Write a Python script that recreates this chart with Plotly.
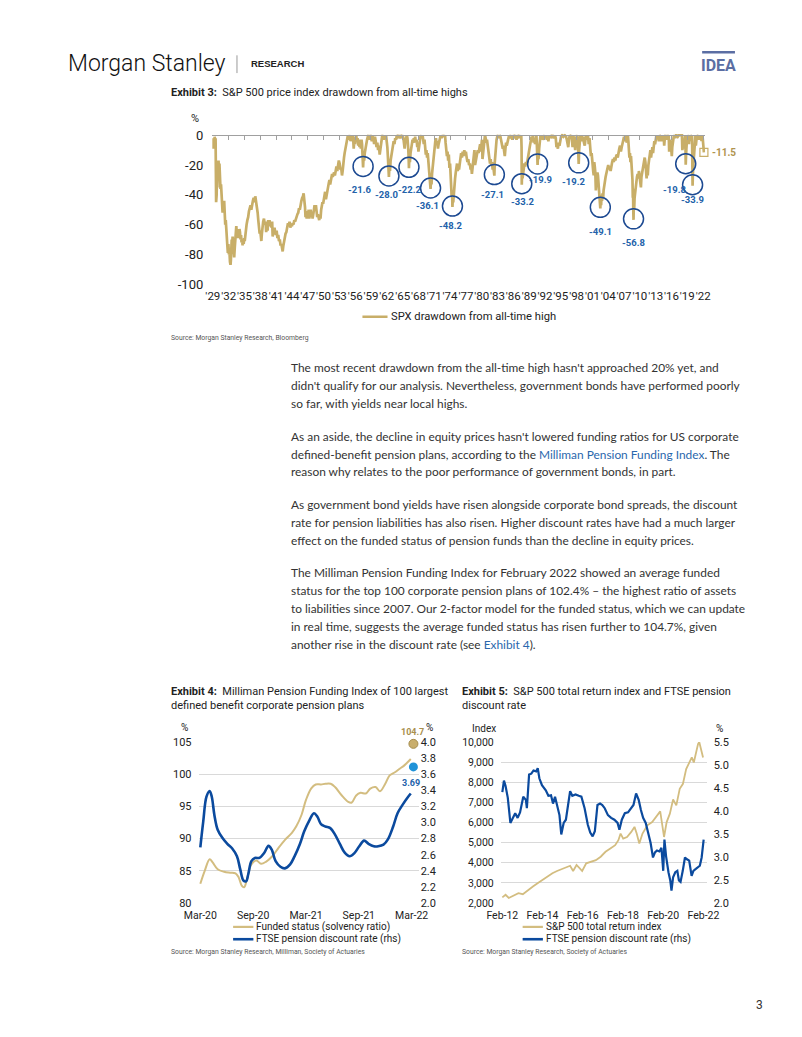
import plotly.graph_objects as go

# ---------------- DATA ----------------
# Exhibit 3: S&P 500 drawdown from all-time high (%), (decimal year, value)
dd_points = [
    (1929.00, -2), (1929.08, -9), (1929.15, -3), (1929.25, -7), (1929.35, -1), (1929.45, -5), (1929.52, -2),
    (1929.58, -25), (1929.62, -45), (1929.67, -33), (1929.72, -40), (1929.78, -28), (1929.85, -35), (1929.92, -20),
    (1930.00, -26), (1930.08, -17), (1930.15, -24), (1930.25, -19), (1930.35, -30), (1930.45, -36), (1930.55, -33),
    (1930.65, -44), (1930.75, -48), (1930.85, -52), (1930.95, -47), (1931.05, -50), (1931.15, -44), (1931.25, -54),
    (1931.35, -60), (1931.45, -57), (1931.55, -66), (1931.65, -63), (1931.75, -74), (1931.85, -79), (1931.95, -73),
    (1932.05, -80), (1932.15, -78), (1932.25, -85), (1932.35, -87), (1932.42, -84), (1932.50, -76), (1932.58, -70),
    (1932.66, -74), (1932.75, -68), (1932.85, -76), (1932.95, -80), (1933.05, -82), (1933.15, -76), (1933.25, -72),
    (1933.35, -64), (1933.45, -61), (1933.55, -66), (1933.65, -63), (1933.75, -69), (1933.85, -66), (1933.95, -68),
    (1934.05, -63), (1934.15, -65), (1934.25, -70), (1934.35, -67), (1934.45, -72), (1934.55, -70), (1934.65, -74),
    (1934.75, -71), (1934.85, -73), (1934.95, -69), (1935.05, -71), (1935.15, -66), (1935.25, -63), (1935.40, -60),
    (1935.55, -57), (1935.70, -55), (1935.85, -51), (1936.00, -49), (1936.15, -47), (1936.30, -50), (1936.45, -46),
    (1936.60, -44), (1936.75, -42), (1936.90, -45), (1937.05, -41), (1937.20, -44), (1937.35, -49), (1937.50, -52),
    (1937.62, -57), (1937.75, -63), (1937.88, -66), (1938.00, -64), (1938.10, -68), (1938.20, -71), (1938.30, -66),
    (1938.40, -61), (1938.55, -58), (1938.70, -56), (1938.85, -60), (1939.00, -58), (1939.12, -65), (1939.25, -60),
    (1939.38, -64), (1939.50, -57), (1939.62, -60), (1939.75, -57), (1939.88, -61), (1940.00, -59), (1940.12, -62),
    (1940.25, -58), (1940.35, -68), (1940.45, -64), (1940.58, -66), (1940.70, -62), (1940.82, -65), (1940.95, -67),
    (1941.10, -64), (1941.25, -69), (1941.40, -67), (1941.55, -71), (1941.70, -70), (1941.85, -74), (1942.00, -73),
    (1942.12, -76), (1942.25, -78), (1942.38, -74), (1942.50, -71), (1942.65, -69), (1942.80, -66), (1942.95, -65),
    (1943.10, -62), (1943.25, -59), (1943.40, -61), (1943.55, -58), (1943.70, -62), (1943.85, -60), (1944.00, -61),
    (1944.15, -59), (1944.30, -60), (1944.45, -57), (1944.60, -58), (1944.75, -56), (1944.90, -55), (1945.05, -53),
    (1945.20, -52), (1945.35, -49), (1945.50, -50), (1945.65, -46), (1945.80, -44), (1945.95, -42), (1946.10, -41),
    (1946.22, -39), (1946.35, -43), (1946.48, -48), (1946.58, -55), (1946.68, -51), (1946.80, -56), (1946.92, -52),
    (1947.05, -54), (1947.18, -50), (1947.30, -56), (1947.42, -53), (1947.55, -50), (1947.68, -54), (1947.80, -52),
    (1947.92, -56), (1948.05, -54), (1948.18, -50), (1948.30, -47), (1948.42, -49), (1948.55, -47), (1948.68, -51),
    (1948.80, -55), (1948.92, -53), (1949.05, -55), (1949.18, -57), (1949.30, -54), (1949.42, -56), (1949.55, -50),
    (1949.68, -48), (1949.80, -45), (1949.92, -46), (1950.05, -43), (1950.18, -41), (1950.30, -38), (1950.45, -43),
    (1950.58, -39), (1950.72, -37), (1950.85, -35), (1951.00, -32), (1951.12, -30), (1951.25, -33), (1951.38, -31),
    (1951.50, -28), (1951.62, -26), (1951.75, -28), (1951.88, -27), (1952.00, -25), (1952.15, -27), (1952.30, -23),
    (1952.45, -21), (1952.60, -24), (1952.75, -19), (1952.90, -17), (1953.05, -19), (1953.20, -23), (1953.35, -22),
    (1953.50, -27), (1953.62, -24), (1953.75, -21), (1953.88, -15), (1954.00, -12), (1954.12, -9), (1954.25, -7),
    (1954.38, -4), (1954.50, -2), (1954.62, 0), (1954.75, -3), (1954.88, -1), (1955.00, 0), (1955.12, -4),
    (1955.25, -1), (1955.38, -3), (1955.50, 0), (1955.62, -2), (1955.72, -9), (1955.82, -4), (1955.95, -6),
    (1956.08, -2), (1956.20, 0), (1956.32, -4), (1956.45, -2), (1956.58, -7), (1956.70, -3), (1956.82, -8),
    (1956.95, -5), (1957.08, -9), (1957.20, -3), (1957.30, -6), (1957.38, -12), (1957.45, -17), (1957.50, -21.6),
    (1957.58, -15), (1957.70, -17), (1957.82, -12), (1957.95, -8), (1958.10, -6), (1958.25, -3), (1958.40, -1),
    (1958.55, 0), (1958.70, -3), (1958.85, 0), (1959.00, -1), (1959.15, -4), (1959.30, 0), (1959.45, -2),
    (1959.60, -6), (1959.75, -1), (1959.90, -4), (1960.05, -8), (1960.20, -5), (1960.35, -10), (1960.50, -7),
    (1960.65, -13), (1960.80, -9), (1960.95, -4), (1961.10, -1), (1961.25, 0), (1961.40, -3), (1961.55, 0),
    (1961.70, -2), (1961.85, 0), (1961.98, -3), (1962.10, -8), (1962.20, -14), (1962.30, -21), (1962.40, -28.0),
    (1962.50, -20), (1962.60, -24), (1962.72, -17), (1962.85, -14), (1963.00, -10), (1963.15, -7), (1963.30, -4),
    (1963.45, -6), (1963.60, -2), (1963.75, -3), (1963.90, 0), (1964.05, -1), (1964.25, 0), (1964.45, -2),
    (1964.65, 0), (1964.85, -1), (1965.00, 0), (1965.15, -2), (1965.28, -6), (1965.38, -9), (1965.50, -4),
    (1965.65, -1), (1965.80, 0), (1965.92, -2), (1966.00, -5), (1966.08, -10), (1966.15, -16), (1966.20, -22.2),
    (1966.28, -14), (1966.38, -18), (1966.50, -12), (1966.62, -9), (1966.75, -6), (1966.88, -3), (1967.00, -5),
    (1967.12, -2), (1967.25, -4), (1967.38, -1), (1967.52, -5), (1967.65, -3), (1967.78, -8), (1967.90, -6),
    (1968.00, -11), (1968.12, -7), (1968.25, -3), (1968.38, -1), (1968.52, 0), (1968.65, -2), (1968.78, 0),
    (1968.90, -4), (1969.02, -6), (1969.15, -3), (1969.28, -9), (1969.40, -13), (1969.52, -10), (1969.64, -15),
    (1969.76, -12), (1969.88, -18), (1970.00, -22), (1970.10, -28), (1970.20, -32), (1970.30, -36.1), (1970.38, -30),
    (1970.48, -33), (1970.58, -26), (1970.70, -21), (1970.82, -17), (1970.95, -11), (1971.08, -7), (1971.20, -4),
    (1971.32, -2), (1971.45, -6), (1971.58, -4), (1971.70, -9), (1971.82, -6), (1971.95, -3), (1972.08, -1),
    (1972.22, 0), (1972.38, -2), (1972.52, 0), (1972.68, -1), (1972.82, 0), (1972.95, -1), (1973.05, 0),
    (1973.15, -5), (1973.28, -10), (1973.40, -14), (1973.52, -11), (1973.64, -17), (1973.76, -13), (1973.88, -22),
    (1974.00, -19), (1974.10, -27), (1974.20, -33), (1974.30, -41), (1974.38, -37), (1974.45, -48.2), (1974.52, -42),
    (1974.60, -45), (1974.70, -38), (1974.82, -33), (1974.95, -29), (1975.08, -25), (1975.20, -22), (1975.32, -19),
    (1975.45, -24), (1975.58, -21), (1975.70, -23), (1975.82, -18), (1975.95, -15), (1976.10, -12), (1976.25, -15),
    (1976.40, -11), (1976.55, -14), (1976.70, -10), (1976.85, -13), (1977.00, -11), (1977.15, -15), (1977.30, -18),
    (1977.45, -16), (1977.60, -20), (1977.75, -19), (1977.90, -23), (1978.02, -21), (1978.14, -26), (1978.26, -22),
    (1978.38, -17), (1978.50, -13), (1978.62, -10), (1978.74, -20), (1978.86, -17), (1978.98, -14), (1979.10, -13),
    (1979.25, -10), (1979.40, -12), (1979.55, -8), (1979.70, -6), (1979.82, -11), (1979.94, -7), (1980.05, -3),
    (1980.15, -16), (1980.25, -12), (1980.38, -7), (1980.50, -3), (1980.62, 0), (1980.75, -2), (1980.88, -5),
    (1981.00, -3), (1981.15, -7), (1981.30, -10), (1981.45, -15), (1981.58, -19), (1981.70, -16), (1981.82, -20),
    (1981.95, -18), (1982.08, -23), (1982.20, -21), (1982.32, -25), (1982.40, -27.1), (1982.48, -18), (1982.58, -11),
    (1982.70, -6), (1982.82, -3), (1982.95, -1), (1983.10, 0), (1983.25, -2), (1983.40, 0), (1983.55, -1),
    (1983.70, -4), (1983.85, -6), (1984.00, -9), (1984.12, -7), (1984.25, -12), (1984.38, -14), (1984.50, -9),
    (1984.62, -5), (1984.75, -7), (1984.90, -4), (1985.05, -1), (1985.20, 0), (1985.40, -2), (1985.60, 0),
    (1985.80, -3), (1986.00, 0), (1986.20, -1), (1986.40, 0), (1986.60, -3), (1986.80, 0), (1987.00, -1),
    (1987.20, 0), (1987.35, -2), (1987.50, 0), (1987.56, -8), (1987.60, -33.2), (1987.66, -25), (1987.74, -29),
    (1987.84, -26), (1987.95, -22), (1988.10, -19), (1988.25, -21), (1988.40, -18), (1988.55, -20), (1988.70, -16),
    (1988.85, -13), (1989.00, -10), (1989.15, -7), (1989.30, -4), (1989.45, -1), (1989.60, -3), (1989.72, 0),
    (1989.85, -5), (1990.00, -2), (1990.12, -6), (1990.25, -1), (1990.38, 0), (1990.48, -8), (1990.60, -19.9),
    (1990.68, -13), (1990.78, -16), (1990.90, -9), (1991.02, -4), (1991.15, 0), (1991.30, -2), (1991.45, 0),
    (1991.60, -3), (1991.75, -1), (1991.90, 0), (1992.05, -2), (1992.20, 0), (1992.35, -3), (1992.50, -1),
    (1992.65, -4), (1992.80, 0), (1992.95, -2), (1993.10, 0), (1993.30, -1), (1993.50, 0), (1993.70, -2),
    (1993.90, 0), (1994.05, -2), (1994.18, -8), (1994.30, -6), (1994.45, -9), (1994.60, -5), (1994.75, -7),
    (1994.90, -4), (1995.05, -1), (1995.25, 0), (1995.50, -1), (1995.75, 0), (1996.00, -1), (1996.15, -3),
    (1996.30, -6), (1996.42, -8), (1996.55, -3), (1996.70, 0), (1996.85, -1), (1997.00, 0), (1997.12, -3),
    (1997.24, -8), (1997.36, 0), (1997.50, -2), (1997.62, -6), (1997.74, -10), (1997.85, -3), (1997.98, -1),
    (1998.10, 0), (1998.22, -2), (1998.30, -8), (1998.40, -19.2), (1998.48, -10), (1998.60, -4), (1998.72, 0),
    (1998.85, -3), (1998.98, 0), (1999.10, -4), (1999.25, -1), (1999.40, -5), (1999.55, -7), (1999.70, -2),
    (1999.85, 0), (2000.00, -3), (2000.15, 0), (2000.30, -6), (2000.45, -2), (2000.60, -9), (2000.72, -14),
    (2000.85, -12), (2000.95, -19), (2001.05, -16), (2001.15, -24), (2001.25, -27), (2001.35, -18), (2001.45, -21),
    (2001.55, -25), (2001.65, -37), (2001.75, -31), (2001.85, -28), (2001.95, -25), (2002.05, -27), (2002.15, -31),
    (2002.25, -35), (2002.35, -41), (2002.43, -46), (2002.50, -49.1), (2002.57, -42), (2002.65, -47), (2002.73, -40),
    (2002.82, -44), (2002.92, -39), (2003.02, -43), (2003.12, -37), (2003.25, -33), (2003.38, -30), (2003.50, -28),
    (2003.62, -26), (2003.75, -24), (2003.88, -22), (2004.00, -20), (2004.15, -23), (2004.30, -21), (2004.45, -24),
    (2004.60, -20), (2004.75, -18), (2004.90, -16), (2005.05, -18), (2005.20, -15), (2005.35, -17), (2005.50, -14),
    (2005.65, -13), (2005.80, -15), (2005.95, -11), (2006.10, -9), (2006.25, -7), (2006.40, -11), (2006.55, -8),
    (2006.70, -5), (2006.85, -3), (2007.00, -1), (2007.12, -4), (2007.25, -1), (2007.38, 0), (2007.50, -5),
    (2007.62, -1), (2007.72, 0), (2007.82, -4), (2007.92, -9), (2008.02, -15), (2008.12, -12), (2008.22, -18),
    (2008.32, -14), (2008.42, -20), (2008.52, -25), (2008.60, -30), (2008.66, -42), (2008.71, -36), (2008.75, -50),
    (2008.80, -56.8), (2008.86, -45), (2008.92, -50), (2009.00, -42), (2009.10, -38), (2009.20, -34), (2009.32, -31),
    (2009.45, -28), (2009.58, -26), (2009.70, -29), (2009.82, -24), (2009.95, -27), (2010.08, -31), (2010.20, -35),
    (2010.30, -28), (2010.42, -25), (2010.55, -22), (2010.68, -19), (2010.80, -16), (2010.92, -15), (2011.05, -18),
    (2011.18, -22), (2011.28, -29), (2011.38, -24), (2011.50, -27), (2011.62, -20), (2011.75, -17), (2011.88, -12),
    (2012.00, -10), (2012.12, -15), (2012.25, -11), (2012.38, -8), (2012.50, -12), (2012.62, -7), (2012.75, -4),
    (2012.88, -6), (2013.00, -1), (2013.15, 0), (2013.30, -2), (2013.45, 0), (2013.60, -4), (2013.75, 0),
    (2013.90, -1), (2014.05, -4), (2014.20, 0), (2014.35, -2), (2014.50, 0), (2014.62, -7), (2014.75, -1),
    (2014.90, 0), (2015.05, -3), (2015.20, 0), (2015.35, -1), (2015.48, 0), (2015.56, -11), (2015.64, -7),
    (2015.76, -3), (2015.88, -6), (2015.98, -12), (2016.06, -14), (2016.15, -8), (2016.28, -3), (2016.42, -1),
    (2016.55, 0), (2016.70, -2), (2016.85, 0), (2017.00, 0), (2017.20, -1), (2017.40, 0), (2017.60, 0),
    (2017.80, 0), (2017.98, 0), (2018.06, -10), (2018.16, -6), (2018.28, -9), (2018.40, -4), (2018.52, -1),
    (2018.60, 0), (2018.66, -9), (2018.70, -19.8), (2018.78, -12), (2018.88, -6), (2018.98, -3), (2019.10, 0),
    (2019.22, -1), (2019.32, -6), (2019.42, 0), (2019.55, -4), (2019.65, 0), (2019.78, -1), (2019.90, 0),
    (2019.95, -14), (2020.00, -33.9), (2020.06, -26), (2020.14, -20), (2020.25, -13), (2020.35, -8), (2020.45, -4),
    (2020.55, 0), (2020.62, -7), (2020.72, -2), (2020.82, 0), (2020.95, -1), (2021.08, 0), (2021.20, -3),
    (2021.32, 0), (2021.45, -2), (2021.58, 0), (2021.70, -4), (2021.82, 0), (2021.92, -2), (2022.00, -6),
    (2022.08, -9), (2022.15, -11.5),
]
dd_year = [p[0] for p in dd_points]
dd_pct = [p[1] for p in dd_points]

# highlighted troughs
trough_year = [1957.50, 1962.40, 1966.20, 1970.30, 1974.45, 1982.40, 1987.60, 1990.60, 1998.40, 2002.50, 2008.80, 2018.70, 2020.00]
trough_pct = [-21.6, -28.0, -22.2, -36.1, -48.2, -27.1, -33.2, -19.9, -19.2, -49.1, -56.8, -19.8, -33.9]
ex3_tick_years = list(range(1929, 2023, 3))
ex3_yticks = [0, -20, -40, -60, -80, -100]

# Exhibit 4: months since Mar-20
fs_pts = [
    (0, 83.0), (0.5, 85.0), (1.06, 86.8), (1.4, 86.3), (1.97, 85.25), (2.7, 84.85), (3.4, 84.7), (4.0, 84.6),
    (4.35, 84.0), (4.7, 82.7), (4.97, 82.45), (5.26, 83.5), (5.8, 86.0), (6.36, 86.6), (6.9, 86.1), (7.45, 86.4),
    (8.2, 87.3), (8.9, 88.6), (9.64, 89.85), (10.4, 90.9), (10.9, 91.9), (11.5, 93.7), (12.0, 96.0), (12.6, 97.8),
    (13.1, 98.4), (13.7, 98.4), (14.2, 98.5), (14.8, 98.5), (15.3, 98.0), (16.0, 96.8), (16.8, 95.7), (17.2, 95.6),
    (17.7, 96.7), (18.2, 97.1), (18.8, 97.0), (19.3, 97.76), (19.9, 98.0), (20.4, 97.35), (21.0, 98.5), (21.5, 99.8),
    (22.1, 100.3), (22.6, 100.8), (23.2, 101.4), (23.9, 102.35),
]
fs_month = [p[0] for p in fs_pts]
fs_val = [p[1] for p in fs_pts]
dr4_pts = [
    (0, 2.69), (0.33, 3.01), (0.7, 3.32), (1.06, 3.39), (1.3, 3.32), (1.6, 3.09), (1.97, 2.91), (2.5, 2.81),
    (3.07, 2.735), (3.6, 2.68), (4.16, 2.58), (4.53, 2.42), (4.9, 2.28), (5.2, 2.27), (5.45, 2.36), (5.8, 2.52),
    (6.2, 2.56), (6.7, 2.56), (7.27, 2.625), (7.74, 2.71), (8.1, 2.665), (8.55, 2.52), (9.1, 2.45), (9.6, 2.43),
    (10.2, 2.48), (10.7, 2.58), (11.3, 2.73), (11.8, 2.89), (12.4, 3.03), (12.9, 3.115), (13.3, 3.07), (13.7, 2.98),
    (14.2, 2.95), (14.76, 2.93), (15.3, 2.85), (15.86, 2.73), (16.4, 2.625), (16.95, 2.58), (17.5, 2.62), (18.05, 2.705),
    (18.6, 2.775), (19.1, 2.735), (19.7, 2.705), (20.2, 2.705), (20.8, 2.725), (21.3, 2.79), (21.9, 2.95), (22.4, 3.115),
    (23.0, 3.225), (23.5, 3.305), (23.9, 3.36),
]
dr4_month = [p[0] for p in dr4_pts]
dr4_val = [p[1] for p in dr4_pts]
model_month = [24.2]
model_fs = [104.7]
model_dr = [3.69]
ex4_tickvals = [0, 6, 12, 18, 24]
ex4_ticktext = ["Mar-20", "Sep-20", "Mar-21", "Sep-21", "Mar-22"]

# Exhibit 5: decimal years
sp_pts = [
    (2012.08, 2280), (2012.24, 2410), (2012.40, 2250), (2012.60, 2350), (2012.88, 2490), (2013.10, 2440),
    (2013.36, 2660), (2013.60, 2820), (2013.85, 2990), (2014.08, 3150), (2014.30, 3310), (2014.57, 3480),
    (2014.80, 3590), (2015.05, 3690), (2015.29, 3800), (2015.45, 3850), (2015.60, 3590), (2015.77, 3890),
    (2015.93, 3720), (2016.05, 3590), (2016.25, 3970), (2016.49, 4050), (2016.73, 4130), (2016.97, 4300),
    (2017.21, 4545), (2017.45, 4710), (2017.69, 4875), (2017.85, 5120), (2017.96, 5450), (2018.09, 5200),
    (2018.28, 5280), (2018.49, 5530), (2018.65, 5780), (2018.76, 5450), (2018.89, 4960), (2019.05, 5450),
    (2019.29, 5860), (2019.53, 6020), (2019.77, 6350), (2019.93, 6550), (2020.12, 5280), (2020.25, 6020),
    (2020.41, 6440), (2020.57, 7140), (2020.73, 6850), (2020.90, 7670), (2021.06, 7920), (2021.22, 8650),
    (2021.38, 8980), (2021.50, 9230), (2021.60, 8980), (2021.70, 9470), (2021.81, 9890), (2021.87, 10000),
    (2021.97, 9560), (2022.06, 9230),
]
sp_year = [p[0] for p in sp_pts]
sp_val = [p[1] for p in sp_pts]
dr5_pts = [
    (2012.08, 4.41), (2012.16, 4.66), (2012.24, 4.54), (2012.35, 4.29), (2012.48, 3.74), (2012.60, 3.85),
    (2012.72, 3.95), (2012.84, 3.85), (2012.96, 3.97), (2013.12, 4.31), (2013.25, 4.24), (2013.30, 4.06),
    (2013.41, 4.79), (2013.52, 4.81), (2013.63, 4.88), (2013.76, 4.86), (2013.84, 4.93), (2013.92, 4.71),
    (2014.05, 4.56), (2014.24, 4.45), (2014.37, 4.33), (2014.50, 4.34), (2014.60, 4.16), (2014.70, 4.31),
    (2014.82, 4.09), (2014.92, 3.91), (2015.01, 3.49), (2015.13, 3.74), (2015.24, 3.81), (2015.37, 4.14),
    (2015.45, 4.43), (2015.56, 4.33), (2015.72, 4.36), (2015.88, 4.33), (2016.01, 4.31), (2016.17, 4.06),
    (2016.33, 3.70), (2016.45, 3.53), (2016.57, 3.45), (2016.68, 3.56), (2016.81, 4.13), (2016.94, 4.16),
    (2017.05, 4.13), (2017.17, 4.06), (2017.33, 3.91), (2017.49, 3.85), (2017.65, 3.81), (2017.81, 3.74),
    (2017.90, 3.59), (2018.02, 3.81), (2018.17, 3.95), (2018.33, 3.97), (2018.49, 4.07), (2018.60, 4.13),
    (2018.73, 4.38), (2018.86, 4.24), (2018.97, 4.02), (2019.08, 3.85), (2019.21, 3.74), (2019.34, 3.49),
    (2019.45, 3.31), (2019.57, 2.99), (2019.67, 3.10), (2019.77, 3.14), (2019.89, 3.12), (2019.99, 3.20),
    (2020.08, 2.70), (2020.14, 3.38), (2020.22, 3.02), (2020.34, 2.67), (2020.43, 2.49), (2020.49, 2.27),
    (2020.57, 2.56), (2020.68, 2.67), (2020.78, 2.70), (2020.86, 2.49), (2020.94, 2.46), (2021.05, 2.70),
    (2021.16, 2.99), (2021.26, 2.95), (2021.37, 2.92), (2021.49, 2.59), (2021.58, 2.70), (2021.70, 2.74),
    (2021.81, 2.77), (2021.90, 2.81), (2021.99, 2.99), (2022.09, 3.38),
]
dr5_year = [p[0] for p in dr5_pts]
dr5_val = [p[1] for p in dr5_pts]
ex5_tickvals = [2012.08, 2014.08, 2016.08, 2018.08, 2020.08, 2022.08]
ex5_ticktext = ["Feb-12", "Feb-14", "Feb-16", "Feb-18", "Feb-20", "Feb-22"]

# ---------------- STYLE ----------------
W, H = 802, 1037
def PX(x): return x / W
def PY(y): return 1 - y / H

GOLD = "#c8ae68"
GOLD4 = "#d3bd80"
BLUE = "#0b4a9e"
CIRCLE = "#1d4a92"
LBLUE = "#2362aa"
TXT = "#222222"
CF = "Roboto"
BODY = "Lato"

# label offsets (px) for trough labels relative to trough point
lab_dx = [-4, -2, 1, -3, -2, -2, 1, 3, -5, 0, 0, -11, 0]
lab_dy = [22, 18, 21, 16, 18, 19, 17, 15, 18, 23, 23, 25, 14]

fig = go.Figure()

# Exhibit 3
fig.add_trace(go.Scatter(x=dd_year, y=dd_pct, mode="lines", line=dict(color=GOLD, width=2.7),
                         xaxis="x", yaxis="y", hoverinfo="skip"))
fig.add_trace(go.Scatter(x=[dd_year[-1]], y=[dd_pct[-1]], mode="markers",
                         marker=dict(symbol="square-open", size=8, color=GOLD, line=dict(width=1.2)),
                         xaxis="x2", yaxis="y", cliponaxis=False, hoverinfo="skip"))
# Exhibit 4
fig.add_trace(go.Scatter(x=fs_month, y=fs_val, mode="lines", line=dict(color=GOLD4, width=2, shape="spline", smoothing=1),
                         xaxis="x3", yaxis="y3", hoverinfo="skip"))
fig.add_trace(go.Scatter(x=dr4_month, y=dr4_val, mode="lines", line=dict(color=BLUE, width=2.6, shape="spline", smoothing=1),
                         xaxis="x3", yaxis="y4", hoverinfo="skip"))
fig.add_trace(go.Scatter(x=model_month, y=model_fs, mode="markers",
                         marker=dict(size=9, color="#c9ae6c", line=dict(color="#a58c4c", width=1)),
                         xaxis="x3", yaxis="y3", cliponaxis=False, hoverinfo="skip"))
fig.add_trace(go.Scatter(x=model_month, y=model_dr, mode="markers",
                         marker=dict(size=9, color="#1f92d8", line=dict(width=0)),
                         xaxis="x3", yaxis="y4", cliponaxis=False, hoverinfo="skip"))
# Exhibit 5
fig.add_trace(go.Scatter(x=sp_year, y=sp_val, mode="lines", line=dict(color=GOLD4, width=1.8),
                         xaxis="x4", yaxis="y5", hoverinfo="skip"))
fig.add_trace(go.Scatter(x=dr5_year, y=dr5_val, mode="lines", line=dict(color=BLUE, width=2.2),
                         xaxis="x4", yaxis="y6", hoverinfo="skip"))

axis_common = dict(showgrid=False, zeroline=False, showline=False, ticks="", fixedrange=True)

layout = dict(
    width=W, height=H, margin=dict(l=0, r=0, t=0, b=0),
    paper_bgcolor="white", plot_bgcolor="rgba(0,0,0,0)", showlegend=False,
    font=dict(family=CF, color=TXT),
    # Exhibit 3
    xaxis=dict(axis_common, domain=[PX(204.45), PX(715.2)], range=[1928.9, 2022.4], anchor="y",
               tickvals=ex3_tick_years, ticktext=["'" + str(y)[2:] for y in ex3_tick_years],
               tickangle=0, tickfont=dict(size=11.5, color=TXT), ticklabelstandoff=3),
    xaxis2=dict(axis_common, domain=[PX(204.45), PX(715.2)], range=[1928.9, 2022.4], overlaying="x",
                anchor="free", position=PY(131), side="top", showline=True, linecolor="#a0a0a0", linewidth=1,
                ticks="inside", ticklen=4, tickcolor="#a0a0a0", tickvals=ex3_tick_years, showticklabels=False),
    yaxis=dict(axis_common, domain=[PY(282), PY(129.5)], range=[-100, 1], anchor="x",
               tickvals=ex3_yticks, ticktext=[str(v) for v in ex3_yticks],
               tickfont=dict(size=13, color=TXT), ticklabelstandoff=8),
    # Exhibit 4
    xaxis3=dict(axis_common, domain=[PX(190.2), PX(418.3)], range=[-0.2, 24.8], anchor="y3",
                tickvals=ex4_tickvals, ticktext=ex4_ticktext, tickangle=0,
                tickfont=dict(size=10.5, color=TXT), ticklabelstandoff=4),
    yaxis3=dict(axis_common, domain=[PY(909.3), PY(746)], range=[80, 105], anchor="x3",
                tickvals=[80, 85, 90, 95, 100, 105], showgrid=True, gridcolor="#d9d9d9", gridwidth=1,
                tickfont=dict(size=11, color=TXT), ticklabelstandoff=6),
    yaxis4=dict(axis_common, domain=[PY(909.3), PY(746)], range=[2, 4], anchor="x3", overlaying="y3",
                side="right", tickvals=[2.0, 2.2, 2.4, 2.6, 2.8, 3.0, 3.2, 3.4, 3.6, 3.8, 4.0], tickformat=".1f",
                tickfont=dict(size=11, color=TXT), ticklabelstandoff=1),
    # Exhibit 5
    xaxis4=dict(axis_common, domain=[PX(503.3), PX(716.7)], range=[2012.0, 2022.24], anchor="y5",
                tickvals=ex5_tickvals, ticktext=ex5_ticktext, tickangle=0,
                tickfont=dict(size=10.5, color=TXT), ticklabelstandoff=4),
    yaxis5=dict(axis_common, domain=[PY(909.3), PY(746)], range=[2000, 10000], anchor="x4",
                tickvals=[2000, 3000, 4000, 5000, 6000, 7000, 8000, 9000, 10000], tickformat=",",
                showgrid=True, gridcolor="#d9d9d9", gridwidth=1,
                tickfont=dict(size=10.5, color=TXT), ticklabelstandoff=6),
    yaxis6=dict(axis_common, domain=[PY(909.3), PY(746)], range=[2, 5.5], anchor="x4", overlaying="y5",
                side="right", tickvals=[2.0, 2.5, 3.0, 3.5, 4.0, 4.5, 5.0, 5.5], tickformat=".1f",
                tickfont=dict(size=11, color=TXT), ticklabelstandoff=6),
)
fig.update_layout(**layout)

ann = []
shapes = []

def text(x, y, s, size=12, color=TXT, family=CF, xanchor="left", yanchor="middle", weight=None):
    f = dict(size=size, color=color, family=family)
    if weight is not None:
        f["weight"] = weight
    ann.append(dict(x=PX(x), y=PY(y), xref="paper", yref="paper", text=s, showarrow=False,
                    xanchor=xanchor, yanchor=yanchor, font=f, align="left"))

def hline(x0, x1, y, color, width):
    shapes.append(dict(type="line", xref="paper", yref="paper", x0=PX(x0), x1=PX(x1), y0=PY(y), y1=PY(y),
                       line=dict(color=color, width=width)))

# Header
text(53, 58, "Morgan Stanley", size=23, color="#111111", family="Roboto", weight=300)
shapes.append(dict(type="line", xref="paper", yref="paper", x0=PX(230), x1=PX(230), y0=PY(50), y1=PY(68),
                   line=dict(color="#9a9a9a", width=1)))
text(242, 58.5, "<b>RESEARCH</b>", size=9.5, color="#222222", family="Liberation Sans")
text(729, 60.5, "<b>IDEA</b>", size=16, color="#5b6ea3", family="Roboto", xanchor="center")
hline(712, 746, 47, "#5b6ea3", 2.5)

# Exhibit 3 texts
text(160, 88, "<b>Exhibit 3:</b>  S&P 500 price index drawdown from all-time highs", size=11)
text(187, 114, "%", size=11, xanchor="center")
hline(360, 386, 315, GOLD, 2.5)
text(388, 315, "SPX drawdown from all-time high", size=11.2)
text(160, 337, "Source: Morgan Stanley Research, Bloomberg", size=6.8, color="#555555")

# trough circles + labels
for yr, v, dx, dy in zip(trough_year, trough_pct, lab_dx, lab_dy):
    shapes.append(dict(type="circle", xref="x", yref="y", xsizemode="pixel", ysizemode="pixel",
                       xanchor=yr, yanchor=v, x0=-10, x1=10, y0=-9, y1=11,
                       line=dict(color=CIRCLE, width=1.5)))
    ann.append(dict(x=yr, y=v, xref="x", yref="y", text="<b>%.1f</b>" % v, showarrow=False,
                    xshift=dx, yshift=-dy, xanchor="center", yanchor="middle",
                    font=dict(size=9.5, color=LBLUE, family=CF)))
ann.append(dict(x=dd_year[-1], y=dd_pct[-1], xref="x2", yref="y", text="<b>%.1f</b>" % dd_pct[-1],
                showarrow=False, xshift=6, yshift=0, xanchor="left", yanchor="middle",
                font=dict(size=10, color="#b09450", family=CF)))

# Body text
body_lines = [
    (366.7, "The most recent drawdown from the all-time high hasn't approached 20% yet, and"),
    (385.0, "didn't qualify for our analysis. Nevertheless, government bonds have performed poorly"),
    (403.3, "so far, with yields near local highs."),
    (436.0, "As an aside, the decline in equity prices hasn't lowered funding ratios for US corporate"),
    (454.2, "defined-benefit pension plans, according to the <span style='color:#2a67ad'>Milliman Pension Funding Index</span>. The"),
    (472.3, "reason why relates to the poor performance of government bonds, in part."),
    (505.0, "As government bond yields have risen alongside corporate bond spreads, the discount"),
    (523.3, "rate for pension liabilities has also risen. Higher discount rates have had a much larger"),
    (541.7, "effect on the funded status of pension funds than the decline in equity prices."),
    (574.3, "The Milliman Pension Funding Index for February 2022 showed an average funded"),
    (592.5, "status for the top 100 corporate pension plans of 102.4% – the highest ratio of assets"),
    (610.7, "to liabilities since 2007. Our 2-factor model for the funded status, which we can update"),
    (628.8, "in real time, suggests the average funded status has risen further to 104.7%, given"),
    (646.9, "another rise in the discount rate (see <span style='color:#2a67ad'>Exhibit 4</span>)."),
]
for y, s in body_lines:
    text(284, y, s, size=11.9, color="#333333", family=BODY)

# Exhibit 4 texts
text(160, 695, "<b>Exhibit 4:</b>  Milliman Pension Funding Index of 100 largest", size=11)
text(160, 709.5, "defined benefit corporate pension plans", size=11)
text(176, 731, "%", size=10, xanchor="center")
text(429, 731, "%", size=10, xanchor="center")
ann.append(dict(x=model_month[0], y=model_fs[0], xref="x3", yref="y3", text="<b>%.1f</b>" % model_fs[0],
                showarrow=False, yshift=12, xshift=-1, xanchor="center", yanchor="middle",
                font=dict(size=9, color="#a88f4e", family=CF)))
ann.append(dict(x=model_month[0], y=model_dr[0], xref="x3", yref="y4", text="<b>%.2f</b>" % model_dr[0],
                showarrow=False, yshift=-16, xshift=-2, xanchor="center", yanchor="middle",
                font=dict(size=9, color=LBLUE, family=CF)))
hline(226, 247, 933.5, GOLD4, 2.2)
text(248, 933.5, "Funded status (solvency ratio)", size=10)
hline(226, 247, 946, BLUE, 2.6)
text(248, 946, "FTSE pension discount rate (rhs)", size=10)
text(160, 959, "Source: Morgan Stanley Research, Milliman, Society of Actuaries", size=6.8, color="#555555")

# Exhibit 5 texts
text(461, 695, "<b>Exhibit 5:</b>  S&P 500 total return index and FTSE pension", size=11)
text(461, 709.5, "discount rate", size=11)
text(471, 732, "Index", size=10)
text(730, 732, "%", size=10, xanchor="center")
hline(526, 547, 933.5, GOLD4, 2.2)
text(548, 933.5, "S&P 500 total return index", size=10)
hline(526, 547, 946, BLUE, 2.6)
text(548, 946, "FTSE pension discount rate (rhs)", size=10)
text(461, 959, "Source: Morgan Stanley Research, Society of Actuaries", size=6.8, color="#555555")

# page number
text(771, 1013, "3", size=12, color="#333333", family="Roboto", xanchor="center")

fig.update_layout(annotations=ann, shapes=shapes)
fig.write_html("out.html", config={"displayModeBar": False, "staticPlot": True},
               post_script="document.body.style.margin='0px';document.body.style.padding='0px';"
                           "document.documentElement.style.overflow='hidden';")
